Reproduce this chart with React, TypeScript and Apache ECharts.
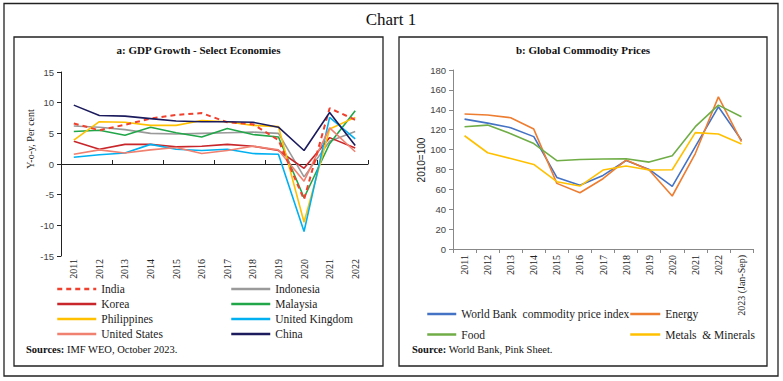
import React, { useEffect, useRef } from "react";
import * as echarts from "echarts";

const yearsA = ["2011","2012","2013","2014","2015","2016","2017","2018","2019","2020","2021","2022"];
const yearsB = ["2011","2012","2013","2014","2015","2016","2017","2018","2019","2020","2021","2022","2023 (Jan-Sep)"];

const india = [6.6, 5.5, 6.4, 7.4, 8.0, 8.3, 6.8, 6.5, 3.9, -5.8, 9.1, 7.2];
const indonesia = [6.2, 6.0, 5.6, 5.0, 4.9, 5.0, 5.1, 5.2, 5.0, -2.1, 3.7, 5.3];
const korea = [3.7, 2.4, 3.2, 3.2, 2.8, 2.9, 3.2, 2.9, 2.2, -0.7, 4.3, 2.6];
const malaysia = [5.3, 5.5, 4.7, 6.0, 5.1, 4.4, 5.8, 4.8, 4.4, -5.5, 3.3, 8.7];
const philippines = [3.9, 6.9, 6.8, 6.3, 6.3, 7.1, 6.9, 6.3, 6.1, -9.5, 5.7, 7.6];
const uk = [1.1, 1.5, 1.8, 3.2, 2.4, 2.2, 2.4, 1.7, 1.6, -11.0, 7.6, 4.1];
const us = [1.6, 2.3, 1.8, 2.3, 2.7, 1.7, 2.2, 2.9, 2.3, -2.8, 5.9, 2.0];
const china = [9.6, 7.9, 7.8, 7.4, 7.0, 6.9, 6.9, 6.8, 6.0, 2.2, 8.4, 3.0];

const wbIndex = [130.6, 126.6, 122, 113, 72, 64, 74, 89, 80, 63, 103, 143, 109.5];
const energy = [135.7, 134.7, 132, 120.6, 66, 56.6, 70.7, 89.4, 79.4, 53.3, 96, 153, 108];
const food = [123, 124.6, 116, 106, 88.8, 90, 90.5, 90.8, 87.4, 93.8, 123, 144.7, 133];
const metals = [113.9, 96.8, 91, 85, 67.7, 63.3, 79.4, 83.4, 79.4, 79.7, 117, 115.6, 105.5];

const yTicksA = { min: -15, max: 15, interval: 5 };
const yTicksB = { min: 0, max: 180, interval: 20 };

const SERIF = "Liberation Serif";
const SANS = "Liberation Sans";

export default function App() {
  const ref = useRef<HTMLDivElement>(null);
  useEffect(() => {
    if (!ref.current) return;
    const chart = echarts.init(ref.current, undefined, { renderer: "svg" });
    const lineA = (name: string, data: number[], color: string, dashed = false) => ({
      name,
      type: "line",
      xAxisIndex: 0,
      yAxisIndex: 0,
      data,
      symbol: "none",
      showSymbol: false,
      lineStyle: { color, width: dashed ? 2 : 1.6, type: dashed ? [5, 4] : "solid" },
      itemStyle: { color },
    });
    const lineB = (name: string, data: number[], color: string) => ({
      name,
      type: "line",
      xAxisIndex: 2,
      yAxisIndex: 1,
      data,
      symbol: "none",
      showSymbol: false,
      lineStyle: { color, width: 1.6 },
      itemStyle: { color },
    });
    const legendBase = {
      orient: "vertical",
      itemHeight: 10,
      textStyle: { fontFamily: SERIF, fontSize: 11.5, color: "#222" },
      lineStyle: { width: 2.5 },
      itemStyle: { color: "transparent", borderColor: "transparent", borderWidth: 0, opacity: 0 },
      padding: 0,
      selectedMode: false,
    };
    chart.setOption({
      animation: false,
      backgroundColor: "#fff",
      textStyle: { fontFamily: SERIF },
      grid: [
        { left: 61, right: 415, top: 72, bottom: 125 },
        { left: 453, right: 30, top: 70, bottom: 132 },
      ],
      xAxis: [
        {
          type: "category",
          gridIndex: 0,
          data: yearsA,
          boundaryGap: true,
          axisLine: { show: false, onZero: false },
          axisTick: { show: false },
          axisLabel: { rotate: 90, interval: 0, margin: 3, fontFamily: SERIF, fontSize: 10, color: "#222" },
        },
        {
          type: "category",
          gridIndex: 0,
          data: yearsA,
          boundaryGap: true,
          axisLine: { show: true, onZero: true, lineStyle: { color: "#222", width: 1 } },
          axisTick: { show: true, length: 4, lineStyle: { color: "#222" } },
          axisLabel: { show: false },
        },
        {
          type: "category",
          gridIndex: 1,
          data: yearsB,
          boundaryGap: true,
          axisLine: { show: true, lineStyle: { color: "#888", width: 1 } },
          axisTick: { show: true, length: 4, lineStyle: { color: "#888" } },
          axisLabel: { rotate: 90, interval: 0, margin: 6, fontFamily: SERIF, fontSize: 10, color: "#222" },
        },
      ],
      yAxis: [
        {
          type: "value",
          gridIndex: 0,
          ...yTicksA,
          splitLine: { show: false },
          axisLine: { show: true, lineStyle: { color: "#222", width: 1 } },
          axisTick: { show: true, length: 4, lineStyle: { color: "#222" } },
          axisLabel: { margin: 7, fontFamily: SANS, fontSize: 9.5, color: "#444" },
        },
        {
          type: "value",
          gridIndex: 1,
          ...yTicksB,
          splitLine: { show: false },
          axisLine: { show: true, lineStyle: { color: "#888", width: 1 } },
          axisTick: { show: true, length: 4, lineStyle: { color: "#888" } },
          axisLabel: { margin: 7, fontFamily: SANS, fontSize: 9.5, color: "#444" },
        },
      ],
      legend: [
        { ...legendBase, left: 56, top: 283, itemWidth: 39, itemGap: 3, data: ["India", "Korea", "Philippines", "United States"] },
        { ...legendBase, left: 230, top: 283, itemWidth: 39, itemGap: 3, data: ["Indonesia", "Malaysia", "United Kingdom", "China"] },
        { ...legendBase, left: 426, top: 308, itemWidth: 29, itemGap: 8.5, data: ["World Bank  commodity price index", "Food"] },
        { ...legendBase, left: 629, top: 308, itemWidth: 30, itemGap: 8.5, data: ["Energy", "Metals  & Minerals"] },
      ],
      series: [
        lineA("Indonesia", indonesia, "#9a9a9a"),
        lineA("Korea", korea, "#c8262a"),
        lineA("Malaysia", malaysia, "#22a64a"),
        lineA("Philippines", philippines, "#ffc000"),
        lineA("United Kingdom", uk, "#00b0f0"),
        lineA("United States", us, "#f08070"),
        lineA("India", india, "#f0402e", true),
        lineA("China", china, "#1b1b5e"),
        lineB("World Bank  commodity price index", wbIndex, "#4472c4"),
        lineB("Energy", energy, "#ed7d31"),
        lineB("Food", food, "#70ad47"),
        lineB("Metals  & Minerals", metals, "#ffc000"),
      ],
      graphic: [
        { type: "rect", shape: { x: 4, y: 3.5, width: 774, height: 372.5 }, style: { fill: "none", stroke: "#222", lineWidth: 1.3 }, silent: true },
        { type: "rect", shape: { x: 14, y: 37, width: 369, height: 329 }, style: { fill: "none", stroke: "#222", lineWidth: 1.3 }, silent: true },
        { type: "rect", shape: { x: 399, y: 37, width: 368, height: 329 }, style: { fill: "none", stroke: "#222", lineWidth: 1.3 }, silent: true },
        { type: "text", x: 391, y: 19, style: { text: "Chart 1", font: `17px ${SERIF}`, fill: "#111", align: "center", verticalAlign: "middle" } },
        { type: "text", x: 198.5, y: 50, style: { text: "a: GDP Growth - Select Economies", font: `bold 11px ${SERIF}`, fill: "#111", align: "center", verticalAlign: "middle" } },
        { type: "text", x: 583, y: 50, style: { text: "b: Global Commodity Prices", font: `bold 11px ${SERIF}`, fill: "#111", align: "center", verticalAlign: "middle" } },
        { type: "text", x: 30, y: 139, rotation: Math.PI / 2, style: { text: "Y-o-y, Per cent", font: `10px ${SERIF}`, fill: "#222", align: "center", verticalAlign: "middle" } },
        { type: "text", x: 421, y: 160, rotation: Math.PI / 2, style: { text: "2010=100", font: `10px ${SANS}`, fill: "#222", align: "center", verticalAlign: "middle" } },
        {
          type: "text", x: 26, y: 349,
          style: {
            text: "{b|Sources:} IMF WEO, October 2023.",
            font: `10.5px ${SERIF}`, fill: "#111", verticalAlign: "middle",
            rich: { b: { fontWeight: "bold", fontFamily: SERIF, fontSize: 10.5 } },
          },
        },
        {
          type: "text", x: 412, y: 349,
          style: {
            text: "{b|Source:} World Bank, Pink Sheet.",
            font: `10.5px ${SERIF}`, fill: "#111", verticalAlign: "middle",
            rich: { b: { fontWeight: "bold", fontFamily: SERIF, fontSize: 10.5 } },
          },
        },
      ],
    });
    return () => chart.dispose();
  }, []);
  return <div ref={ref} style={{ position: "fixed", left: 0, top: 0, width: 783, height: 381 }} />;
}
